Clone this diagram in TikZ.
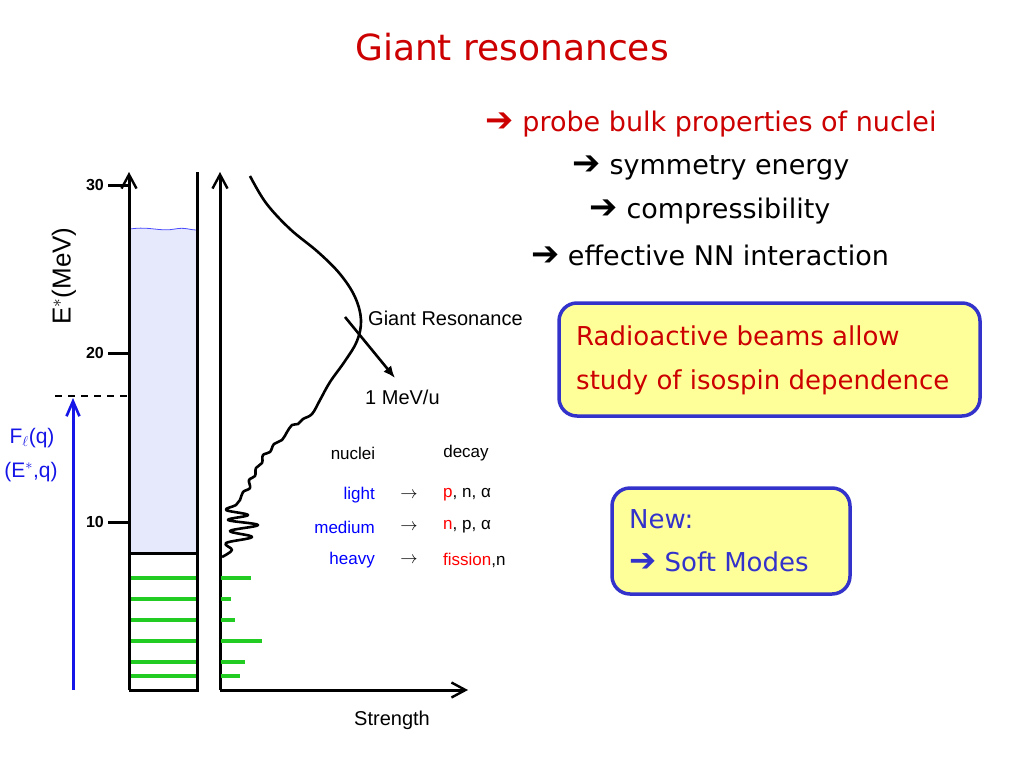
\documentclass[tikz,border=0pt]{standalone}
\usepackage{fontspec}
\setmainfont{DejaVu Sans}
\newfontfamily\hel{Liberation Sans}
\newfontfamily\dv{DejaVu Sans}
\usetikzlibrary{arrows.meta}
\definecolor{tred}{HTML}{CC0000}
\definecolor{bblue}{HTML}{3333CC}
\definecolor{byellow}{HTML}{FFFF99}
\definecolor{lblue}{HTML}{E6E8FC}
\definecolor{lgreen}{HTML}{22CC22}
\definecolor{pblue}{HTML}{1515E8}
\tikzset{
  axis/.style={line width=3pt, -{Straight Barb[length=14pt,width=15pt,line width=2.4pt]}},
  frame/.style={line width=3pt},
  lvl/.style={lgreen, line width=3.5pt},
  hlabel/.style={font=\hel\fontsize{20}{24}\selectfont, inner sep=0pt},
  tlabel/.style={font=\hel\fontsize{17}{20}\selectfont, inner sep=0pt},
  ticklab/.style={font=\hel\bfseries\fontsize{16}{18}\selectfont, inner sep=0pt, anchor=east},
  bullet/.style={font=\fontsize{27}{32}\selectfont, inner sep=0pt},
  callout/.style={draw=bblue, line width=3.5pt, fill=byellow, rounded corners=18pt},
}
\newcommand{\arr}{{\dv\bfseries\scalebox{1.25}{➔}}}
\begin{document}
\begin{tikzpicture}[x=1pt,y=-1pt]
\useasboundingbox (0,0) rectangle (1024,768);
\fill[white] (0,0) rectangle (1024,768);

% title
\node[font=\fontsize{36}{42}\selectfont, text=tred, inner sep=0pt] (title) at (512,47) {Giant resonances};

% bullet list
\node[bullet, text=tred] (b1) at (711,124) {\arr\ probe bulk properties of nuclei};
\node[bullet] (b2) at (711,168) {\arr\ symmetry energy};
\node[bullet] (b3) at (710,211) {\arr\ compressibility};
\node[bullet] (b4) at (710,255) {\arr\ effective NN interaction};

% callout boxes
\draw[callout] (559,303) rectangle (980,416);
\node[bullet, text=tred, anchor=west, align=left, font=\fontsize{26}{44}\selectfont] (c1) at (576,360) {Radioactive beams allow\\study of isospin dependence};
\draw[callout] (612,488) rectangle (850,594);
\node[bullet, text=bblue, anchor=west, align=left, font=\fontsize{26}{43}\selectfont] (c2) at (629,541) {New:\\\arr\ Soft Modes};

% ---------- left level scheme ----------
\fill[lblue] (130,229) .. controls (150,226) and (160,232) .. (175,229) .. controls (185,227) and (190,230) .. (196,230) -- (196,553) -- (130,553) -- cycle;
\draw[blue!70, line width=0.8pt] (130,229) .. controls (150,226) and (160,232) .. (175,229) .. controls (185,227) and (190,230) .. (196,230);
\foreach \y in {578,599,620,641,662,676} \draw[lvl] (130,\y) -- (196,\y);
\coordinate (lb) at (129,690);
\coordinate (lt) at (129,172);
\coordinate (rb) at (197,690);
\coordinate (rt) at (197,172);
\draw[frame, line join=miter] (rt) -- (rb) -- (lb);
\draw[axis] (lb) -- (lt);
\draw[frame] (129,553) -- (197,553);
% ticks
\foreach \y/\t in {185/30,353/20,522/10} {
  \draw[frame] (108,\y) -- (129,\y);
  \node[ticklab] at (104,\y) {\t};
}
\node[font=\hel\fontsize{26}{30}\selectfont, rotate=90, inner sep=0pt] (elab) at (64,276) {E$^*$(MeV)};
% dashed threshold and probe arrow
\coordinate (dl) at (55,396);
\draw[line width=2.6pt, dash pattern=on 7pt off 6pt] (dl) -- (129,396);
\coordinate (pb) at (73,690);
\coordinate (pt) at (73,398);
\draw[pblue, line width=3pt, -{Straight Barb[length=15pt,width=13pt,line width=2.6pt]}] (pb) -- (pt);
\node[font=\hel\fontsize{21}{24}\selectfont, text=pblue, inner sep=0pt] (fl) at (32,438) {F$_\ell$(q)};
\node[font=\hel\fontsize{21}{24}\selectfont, text=pblue, inner sep=0pt] (eq) at (31,472) {(E$^*$,q)};

% ---------- strength axes ----------
\coordinate (o) at (220,690);
\coordinate (yt) at (220,172);
\coordinate (xr) at (468,690);
\draw[axis] (o) -- (yt);
\draw[axis] (o) -- (xr);
\foreach \y/\x in {578/251,599/231,620/235,641/262,662/245,676/240} \draw[lvl] (221,\y) -- (\x,\y);

% strength curve
\draw[line width=2.6pt, line join=round] plot[smooth, tension=0.6] coordinates {
 (250,176) (266,203) (290,229) (318,252) (340,274) (355,297) (361,320) (357,341) (345,361) (330,382) (320,400) (312,414)
 (303,419) (298,424) (292,425) (287,432) (282,440) (274,444) (270,452) (263,455) (262,463) (256,468) (255,476) (249,480)
 (250,488) (243,492) (240,500) (236,505) (226,510) (248,515) (228,520) (258,525) (230,531) (252,537) (226,543) (232,550) (222,557)};

% giant resonance label and arrow
\node[hlabel, anchor=west] (gr) at (368,318) {Giant Resonance};
\node[hlabel, anchor=west] (mev) at (365,397) {1 MeV/u};
\coordinate (ga) at (345,317);
\coordinate (gb) at (395,378);
\draw[line width=2.6pt, -{Latex[length=12pt,width=10pt]}] (ga) -- (gb);

% table
\node[tlabel] (nuc) at (353,453) {nuclei};
\node[tlabel] (dec) at (466,453) {decay};
\node[tlabel, anchor=east, text=blue] (n1) at (375,495) {light};
\node[tlabel, anchor=east, text=blue] (n2) at (375,527) {medium};
\node[tlabel, anchor=east, text=blue] (n3) at (375,560) {heavy};
\foreach \y in {495,527,560} \node[tlabel] at (409,\y) {$\rightarrow$};
\node[tlabel, anchor=west] (d1) at (443,495) {\textcolor{red}{p}, n, α};
\node[tlabel, anchor=west] (d2) at (443,527) {\textcolor{red}{n}, p, α};
\node[tlabel, anchor=west] (d3) at (443,560) {\textcolor{red}{fission},n};

\node[hlabel] (str) at (392,720) {Strength};
\end{tikzpicture}
\end{document}
